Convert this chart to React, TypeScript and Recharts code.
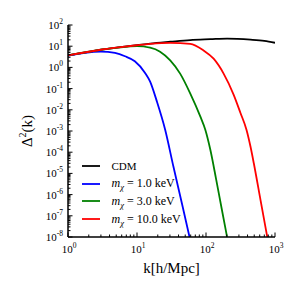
import { Legend, Line, LineChart, XAxis, YAxis } from "recharts";

const SERIF = '"Liberation Serif", "DejaVu Serif", "Times New Roman", serif';

// Δ²(k), one pair of arrays per model
const K_CDM = [1, 2, 3, 5, 10, 15.5, 30.3, 59, 116, 202, 442, 700, 1000];
const D_CDM = [3.7, 5.4, 6.8, 8.5, 11.1, 13.2, 16.2, 19.5, 21.4, 22.9, 20.4, 17.8, 14.5];

const K_M1 = [1, 1.75, 3, 4.8, 6.7, 9.3, 13.1, 15.5, 19.4, 25.6, 33.7, 44.7, 57.7];
const D_M1 = [3.55, 4.9, 5.6, 4.8, 3.35, 1.95, 0.55, 0.214, 0.025, 1.15e-3, 2.1e-5, 3.9e-7, 1e-8];

const K_M3 = [1, 3, 5, 10, 15.5, 21.6, 30.3, 42.2, 59, 82.6, 97.7, 115.6, 139, 167, 202];
const D_M3 = [3.7, 6.8, 8.3, 10, 8.5, 5.5, 2.14, 0.51, 0.06, 4.9e-3, 1.15e-3, 1.3e-4, 6.2e-6, 2.6e-7, 1e-8];

const K_M10 = [1, 3, 5, 10, 15.5, 30.3, 59, 92, 129, 180, 252, 316, 386, 442, 493, 617, 773];
const D_M10 = [
  3.7, 6.8, 8.5, 11.1, 12.9, 14.5, 12.9, 6.3, 2.57, 0.51, 0.051, 7.1e-3, 1.15e-3, 1.8e-4, 3.0e-5, 5.5e-7, 1e-8,
];

const LABELS = ["CDM", "1.0", "3.0", "10.0"];
const COLORS = ["#000000", "#0000ff", "#008000", "#ff0000"];

const X_MAJOR = [1, 10, 100, 1000];
const Y_MAJOR = [1e-8, 1e-7, 1e-6, 1e-5, 1e-4, 1e-3, 1e-2, 1e-1, 1, 10, 100];
const MINOR = [2, 3, 4, 5, 6, 7, 8, 9];

const withMinor = (majors: number[]) =>
  majors.flatMap((d, i) => (i < majors.length - 1 ? [d, ...MINOR.map((m) => m * d)] : [d]));
const X_TICKS = withMinor(X_MAJOR);
const Y_TICKS = withMinor(Y_MAJOR);

const toRows = (ks: number[], ds: number[]) => ks.map((k, i) => ({ k, d: ds[i] }));
const SERIES = [
  toRows(K_CDM, D_CDM),
  toRows(K_M1, D_M1),
  toRows(K_M3, D_M3),
  toRows(K_M10, D_M10),
];

const exponent = (v: number) => Math.round(Math.log10(v));
const isMajor = (v: number) => Math.abs(Math.log10(v) - exponent(v)) < 1e-6;

const MAJOR_LEN = 4.5;
const MINOR_LEN = 2.5;
const AXIS_LINE = { stroke: "#000", strokeWidth: 1.5 };

function Pow({ x, y, v, anchor }: { x: number; y: number; v: number; anchor: "middle" | "end" }) {
  const e = exponent(v);
  return (
    <text x={x} y={y} textAnchor={anchor} fontFamily={SERIF} fontSize={11} fill="#000">
      10
      <tspan dy={-5} fontSize={7.5}>
        {e < 0 ? `-${-e}` : `${e}`}
      </tspan>
    </text>
  );
}

function BottomTick(p: any) {
  const { x, y, payload } = p;
  const major = isMajor(payload.value);
  return (
    <g>
      <line x1={x} x2={x} y1={y} y2={y - (major ? MAJOR_LEN : MINOR_LEN)} stroke="#000" />
      {major && <Pow x={x + 1} y={y + 16} v={payload.value} anchor="middle" />}
    </g>
  );
}

function TopTick(p: any) {
  const { x, y, payload } = p;
  const major = isMajor(payload.value);
  return <line x1={x} x2={x} y1={y} y2={y + (major ? MAJOR_LEN : MINOR_LEN)} stroke="#000" />;
}

function LeftTick(p: any) {
  const { x, y, payload } = p;
  const major = isMajor(payload.value);
  return (
    <g>
      <line x1={x} x2={x + (major ? MAJOR_LEN : MINOR_LEN)} y1={y} y2={y} stroke="#000" />
      {major && <Pow x={x - 5} y={y + 4} v={payload.value} anchor="end" />}
    </g>
  );
}

function RightTick(p: any) {
  const { x, y, payload } = p;
  const major = isMajor(payload.value);
  return <line x1={x} x2={x - (major ? MAJOR_LEN : MINOR_LEN)} y1={y} y2={y} stroke="#000" />;
}

function XLabel({ viewBox }: any) {
  return (
    <text
      x={viewBox.x + viewBox.width / 2}
      y={viewBox.y + 36}
      textAnchor="middle"
      fontFamily={SERIF}
      fontSize={15}
      fill="#000"
    >
      k[h/Mpc]
    </text>
  );
}

function YLabel({ viewBox }: any) {
  const cx = viewBox.x + 32;
  const cy = viewBox.y + viewBox.height / 2;
  return (
    <text
      x={cx}
      y={cy}
      transform={`rotate(-90, ${cx}, ${cy})`}
      textAnchor="middle"
      fontFamily={SERIF}
      fontSize={15}
      fill="#000"
    >
      Δ
      <tspan dy={-6} fontSize={10}>
        2
      </tspan>
      <tspan dy={6}>(k)</tspan>
    </text>
  );
}

function LegendBox() {
  return (
    <div style={{ fontFamily: SERIF, color: "#000" }}>
      {LABELS.map((label, i) => (
        <div key={label} style={{ display: "flex", alignItems: "center", height: 17.8 }}>
          <svg width={18} height={4} style={{ display: "block" }}>
            <line x1={0} x2={18} y1={2} y2={2} stroke={COLORS[i]} strokeWidth={1.8} />
          </svg>
          {i === 0 ? (
            <span style={{ marginLeft: 11.5, fontSize: 11 }}>{label}</span>
          ) : (
            <span style={{ marginLeft: 11.5, fontSize: 12, whiteSpace: "nowrap" }}>
              <i>m</i>
              <i style={{ fontSize: 8.5, position: "relative", top: 3 }}>χ</i>
              {" = "}
              {label} keV
            </span>
          )}
        </div>
      ))}
    </div>
  );
}

export default function App() {
  return (
    <div style={{ position: "absolute", left: 0, top: 0, width: 300, height: 300, background: "#fff" }}>
      <LineChart width={300} height={300} margin={{ top: 25, right: 25, bottom: 0, left: 0 }}>
        <XAxis
          dataKey="k"
          type="number"
          scale="log"
          domain={[1, 1000]}
          allowDataOverflow
          ticks={X_TICKS}
          interval={0}
          height={63}
          tickSize={0}
          tickMargin={0}
          tickLine={false}
          tick={BottomTick}
          axisLine={AXIS_LINE}
          label={XLabel}
        />
        <XAxis
          xAxisId="top"
          orientation="top"
          dataKey="k"
          type="number"
          scale="log"
          domain={[1, 1000]}
          allowDataOverflow
          ticks={X_TICKS}
          interval={0}
          height={0}
          tickSize={0}
          tickMargin={0}
          tickLine={false}
          tick={TopTick}
          axisLine={AXIS_LINE}
        />
        <YAxis
          type="number"
          scale="log"
          domain={[1e-8, 100]}
          allowDataOverflow
          ticks={Y_TICKS}
          interval={0}
          width={68}
          tickSize={0}
          tickMargin={0}
          tickLine={false}
          tick={LeftTick}
          axisLine={AXIS_LINE}
          label={YLabel}
        />
        <YAxis
          yAxisId="right"
          orientation="right"
          type="number"
          scale="log"
          domain={[1e-8, 100]}
          allowDataOverflow
          ticks={Y_TICKS}
          interval={0}
          width={0}
          tickSize={0}
          tickMargin={0}
          tickLine={false}
          tick={RightTick}
          axisLine={AXIS_LINE}
        />
        {SERIES.map((rows, i) => (
          <Line
            key={LABELS[i]}
            data={rows}
            dataKey="d"
            name={LABELS[i]}
            type="monotone"
            stroke={COLORS[i]}
            strokeWidth={1.8}
            dot={false}
            isAnimationActive={false}
          />
        ))}
        <Legend
          layout="vertical"
          align="center"
          verticalAlign="middle"
          wrapperStyle={{ left: 82, top: 157, width: "auto", height: "auto" }}
          content={LegendBox}
        />
      </LineChart>
    </div>
  );
}
